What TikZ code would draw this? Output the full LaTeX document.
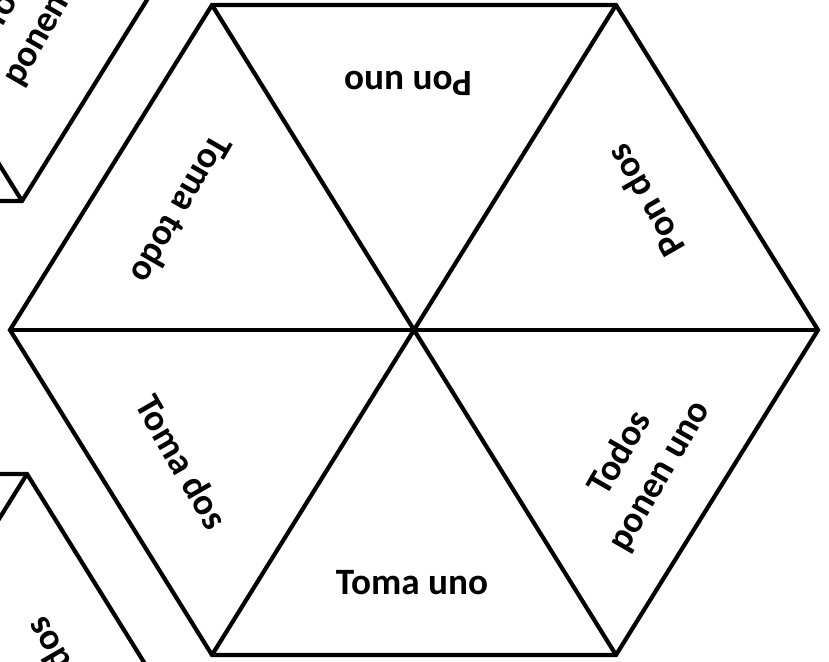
\documentclass[tikz,border=0pt]{standalone}
\usepackage{fontspec}
\setmainfont{Carlito}
\usepackage{tikz}

\begin{document}
\begin{tikzpicture}[
  x=0.5pt, y=0.5pt,
  edge/.style={line width=2.1pt, line join=miter},
  lbl/.style={font=\fontsize{18.6}{22.5}\selectfont\bfseries, align=center, inner sep=0pt},
  lblshift/.store in=\lblshift, lblshift={(0,0)},
  hexpiece/.pic={
    \coordinate (-c)  at (0,0);
    \coordinate (-e)  at (404,0);
    \coordinate (-ne) at (202,325);
    \coordinate (-nw) at (-202,325);
    \coordinate (-w)  at (-404,0);
    \coordinate (-sw) at (-202,-325);
    \coordinate (-se) at (202,-325);
    % outline and the three diameters
    \draw[edge] (-e) -- (-ne) -- (-nw) -- (-w) -- (-sw) -- (-se) -- cycle;
    \draw[edge] (-e) -- (-w);
    \draw[edge] (-ne) -- (-sw);
    \draw[edge] (-nw) -- (-se);
    % one label per triangle
    \begin{scope}[shift=\lblshift]
      \node[lbl, rotate=180] (-n)   at (-6,247)    {Pon uno};
      \node[lbl, rotate=120] (-nee) at (231,129)   {Pon dos};
      \node[lbl, rotate=240] (-nww) at (-232,120)  {Toma todo};
      \node[lbl, rotate=-60] (-sww) at (-232,-132) {Toma dos};
      \node[lbl]             (-s)   at (-2,-253)   {Toma uno};
      \node[lbl, rotate=60]  (-see) at (226,-135)  {Todos\\ponen uno};
    \end{scope}
  },
]
  \useasboundingbox (0,0) rectangle (829,662);
  \clip (0,0) rectangle (829,662);
  \pic (main)  at (414,332)  {hexpiece};
  \pic[lblshift={(-12,12)}] (upper) at (-180,786) {hexpiece};
  \pic[lblshift={(8,-4)}]   (lower) at (-175,-137) {hexpiece};
\end{tikzpicture}
\end{document}
